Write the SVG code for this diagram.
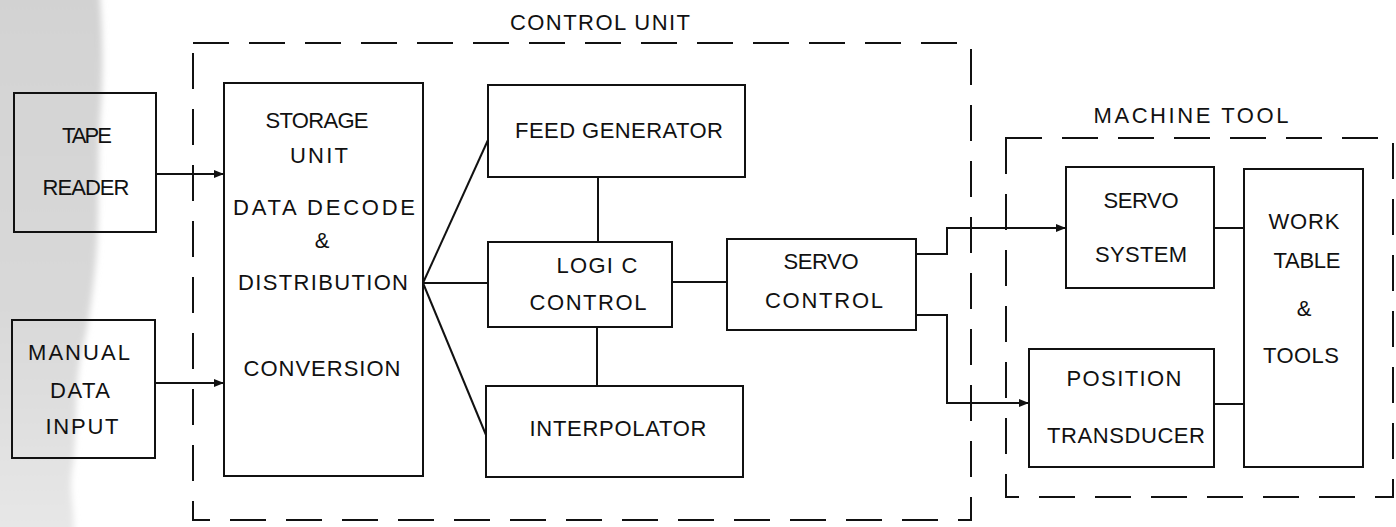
<svg xmlns="http://www.w3.org/2000/svg" width="1396" height="527" viewBox="0 0 1396 527">
  <style>
    .box { fill: none; stroke: #111; stroke-width: 2; }
    .frame { fill: none; stroke: #111; stroke-width: 2; stroke-dasharray: 36 20; }
    .wire { fill: none; stroke: #111; stroke-width: 2; }
    .lbl { font-family: "Liberation Sans", Arial, sans-serif; font-size: 22px; fill: #111; text-anchor: middle; }
  </style>
  <defs>
    <marker id="arrow" viewBox="0 0 10 8" refX="10" refY="4" markerWidth="10" markerHeight="8" markerUnits="userSpaceOnUse" orient="auto">
      <path d="M0,0 L10,4 L0,8 Z" fill="#111"/>
    </marker>
    <linearGradient id="paperShade" x1="0" y1="0" x2="0" y2="1">
      <stop offset="0" stop-color="#d2d2d2"/>
      <stop offset="0.6" stop-color="#d9d9d9"/>
      <stop offset="1" stop-color="#e9e9e9"/>
    </linearGradient>
    <filter id="soft" x="-20%" y="-5%" width="140%" height="110%">
      <feGaussianBlur stdDeviation="3"/>
    </filter>
  </defs>

  <rect width="1396" height="527" fill="#fff"/>

  <!-- toned paper along the left margin -->
  <path d="M-30,-30 H98 C104,40 103,80 100,120 C97,170 100,220 96,260 C92,300 88,330 80,360 C74,400 78,440 72,470 C68,500 78,515 72,560 H-30 Z"
        fill="url(#paperShade)" filter="url(#soft)"/>

  <!-- enclosing units -->
  <g id="control-unit">
    <rect class="frame" x="193" y="43" width="778" height="477"/>
    <text class="lbl" x="600" y="30" textLength="180" lengthAdjust="spacing">CONTROL UNIT</text>
  </g>
  <g id="machine-tool">
    <rect class="frame" x="1006" y="138" width="387" height="359"/>
    <text class="lbl" x="1191" y="123" textLength="195" lengthAdjust="spacing">MACHINE TOOL</text>
  </g>

  <!-- input devices -->
  <g id="tape-reader">
    <rect class="box" x="14" y="93" width="142" height="139"/>
    <text class="lbl" x="87" y="143" textLength="50" lengthAdjust="spacing">TAPE</text>
    <text class="lbl" x="86" y="195" textLength="87" lengthAdjust="spacing">READER</text>
  </g>
  <g id="manual-data-input">
    <rect class="box" x="12" y="320" width="143" height="138"/>
    <text class="lbl" x="79" y="360" textLength="102" lengthAdjust="spacing">MANUAL</text>
    <text class="lbl" x="80" y="398" textLength="60" lengthAdjust="spacing">DATA</text>
    <text class="lbl" x="82" y="434" textLength="73" lengthAdjust="spacing">INPUT</text>
  </g>

  <!-- control unit blocks -->
  <g id="storage-unit">
    <rect class="box" x="224" y="83" width="199" height="393"/>
    <text class="lbl" x="317" y="128" textLength="103" lengthAdjust="spacing">STORAGE</text>
    <text class="lbl" x="319" y="163" textLength="58" lengthAdjust="spacing">UNIT</text>
    <text class="lbl" x="324" y="215" textLength="182" lengthAdjust="spacing">DATA  DECODE</text>
    <text class="lbl" x="322" y="248">&amp;</text>
    <text class="lbl" x="323" y="290" textLength="170" lengthAdjust="spacing">DISTRIBUTION</text>
    <text class="lbl" x="322" y="376" textLength="157" lengthAdjust="spacing">CONVERSION</text>
  </g>
  <g id="feed-generator">
    <rect class="box" x="488" y="85" width="257" height="92"/>
    <text class="lbl" x="619" y="138" textLength="208" lengthAdjust="spacing">FEED GENERATOR</text>
  </g>
  <g id="logic-control">
    <rect class="box" x="488" y="242" width="184" height="85"/>
    <text class="lbl" x="597" y="273" textLength="81" lengthAdjust="spacing">LOGI C</text>
    <text class="lbl" x="588" y="310" textLength="117" lengthAdjust="spacing">CONTROL</text>
  </g>
  <g id="interpolator">
    <rect class="box" x="486" y="386" width="257" height="91"/>
    <text class="lbl" x="618" y="436" textLength="177" lengthAdjust="spacing">INTERPOLATOR</text>
  </g>
  <g id="servo-control">
    <rect class="box" x="727" y="239" width="189" height="91"/>
    <text class="lbl" x="821" y="269" textLength="75" lengthAdjust="spacing">SERVO</text>
    <text class="lbl" x="824" y="308" textLength="118" lengthAdjust="spacing">CONTROL</text>
  </g>

  <!-- machine tool blocks -->
  <g id="servo-system">
    <rect class="box" x="1066" y="167" width="148" height="121"/>
    <text class="lbl" x="1141" y="208" textLength="75" lengthAdjust="spacing">SERVO</text>
    <text class="lbl" x="1141" y="262" textLength="92" lengthAdjust="spacing">SYSTEM</text>
  </g>
  <g id="position-transducer">
    <rect class="box" x="1029" y="349" width="185" height="118"/>
    <text class="lbl" x="1124" y="386" textLength="115" lengthAdjust="spacing">POSITION</text>
    <text class="lbl" x="1126" y="443" textLength="158" lengthAdjust="spacing">TRANSDUCER</text>
  </g>
  <g id="work-table-tools">
    <rect class="box" x="1244" y="169" width="119" height="298"/>
    <text class="lbl" x="1304" y="229" textLength="71" lengthAdjust="spacing">WORK</text>
    <text class="lbl" x="1307" y="268" textLength="67" lengthAdjust="spacing">TABLE</text>
    <text class="lbl" x="1304" y="316">&amp;</text>
    <text class="lbl" x="1301" y="363" textLength="76" lengthAdjust="spacing">TOOLS</text>
  </g>

  <!-- connectors -->
  <g id="connectors">
    <path class="wire" d="M156,174 H224" marker-end="url(#arrow)"/>
    <path class="wire" d="M155,383 H224" marker-end="url(#arrow)"/>
    <path class="wire" d="M423,283 L488,140"/>
    <path class="wire" d="M423,283 H488"/>
    <path class="wire" d="M423,283 L486,435"/>
    <path class="wire" d="M598,177 V242"/>
    <path class="wire" d="M597,327 V386"/>
    <path class="wire" d="M672,282 H727"/>
    <path class="wire" d="M916,254 H947 V228 H1066" marker-end="url(#arrow)"/>
    <path class="wire" d="M916,315 H947 V403 H1029" marker-end="url(#arrow)"/>
    <path class="wire" d="M1214,228 H1244"/>
    <path class="wire" d="M1214,404 H1244"/>
  </g>
</svg>
